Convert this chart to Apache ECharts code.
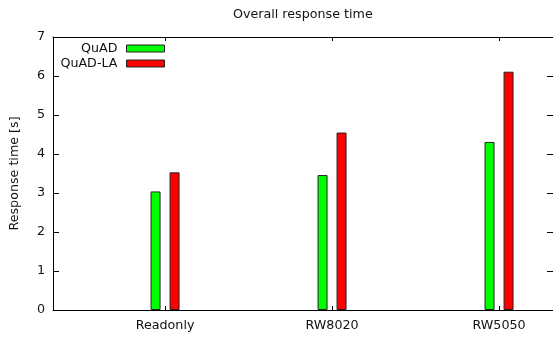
<!DOCTYPE html>
<html>
<head>
<meta charset="utf-8">
<script src="https://cdn.jsdelivr.net/npm/echarts@6/dist/echarts.min.js"></script>
<style>html,body{margin:0;padding:0;background:#fff}#c{width:553px;height:339px}</style>
</head>
<body>
<div id="c"></div>
<script>
var categories = ['Readonly', 'RW8020', 'RW5050'];
var quad = [3.04, 3.46, 4.31];
var quadLA = [3.53, 4.55, 6.11];
var seriesNames = ['QuAD', 'QuAD-LA'];
var yTicks = [0, 1, 2, 3, 4, 5, 6, 7];
var catPositions = categories.map(function (c, i) { return i; });

var font = 'DejaVu Sans';
var fs = 12.7;
var txt = '#111';
var chart = echarts.init(document.getElementById('c'));
function legendFor(name, top) {
  return {
    data: [name], right: 388, top: top, orient: 'vertical', align: 'right',
    padding: 0, itemWidth: 38, itemHeight: 7, selectedMode: false,
    icon: 'rect',
    itemStyle: { borderColor: '#222', borderWidth: 1 },
    textStyle: { fontFamily: font, fontSize: fs, color: txt, padding: [0, 4, 0, 0] }
  };
}
chart.setOption({
  animation: false,
  title: { text: 'Overall response time', left: 233, top: 8, padding: 0,
    textStyle: { fontFamily: font, fontSize: fs, fontWeight: 'normal', color: txt } },
  legend: [legendFor(seriesNames[0], 42), legendFor(seriesNames[1], 57)],
  grid: { left: 53, right: 0, top: 37, bottom: 29 },
  xAxis: [{
    type: 'value', min: -0.671, max: 2.323, position: 'bottom',
    axisLine: { show: true, onZero: false, lineStyle: { color: '#000', width: 1 } },
    axisTick: { show: true, inside: true, length: 4, customValues: catPositions, lineStyle: { color: '#000' } },
    axisLabel: { customValues: catPositions, margin: 9, fontFamily: font, fontSize: fs, color: txt,
      formatter: function (v) { return categories[Math.round(v)]; } },
    splitLine: { show: false }
  }, {
    type: 'value', min: -0.671, max: 2.323, position: 'top',
    axisLine: { show: true, onZero: false, lineStyle: { color: '#000', width: 1 } },
    axisTick: { show: true, inside: true, length: 4, customValues: catPositions, lineStyle: { color: '#000' } },
    axisLabel: { show: false },
    splitLine: { show: false }
  }],
  yAxis: [{
    type: 'value', min: 0, max: 7, interval: 1, position: 'left',
    name: 'Response time [s]', nameLocation: 'middle', nameGap: 32,
    nameTextStyle: { fontFamily: font, fontSize: fs, color: txt },
    axisLine: { show: true, onZero: false, lineStyle: { color: '#000', width: 1 } },
    axisTick: { show: true, inside: true, length: 6, lineStyle: { color: '#000' } },
    axisLabel: { margin: 8, fontFamily: font, fontSize: fs, color: txt,
      formatter: function (v) { return yTicks.indexOf(v) >= 0 ? String(v) : ''; } },
    splitLine: { show: false }
  }, {
    type: 'value', min: 0, max: 7, interval: 1, position: 'right',
    axisLine: { show: false, onZero: false },
    axisTick: { show: true, inside: true, length: 6, lineStyle: { color: '#000' } },
    axisLabel: { show: false },
    splitLine: { show: false }
  }],
  series: [{
    name: seriesNames[0], type: 'bar', barWidth: 10, barGap: '90%',
    itemStyle: { color: '#00ff00', borderColor: '#222', borderWidth: 1 },
    data: quad.map(function (v, i) { return [i, v]; })
  }, {
    name: seriesNames[1], type: 'bar', barWidth: 10, barGap: '90%',
    itemStyle: { color: '#ff0000', borderColor: '#222', borderWidth: 1 },
    data: quadLA.map(function (v, i) { return [i, v]; })
  }]
});
</script>
</body>
</html>
